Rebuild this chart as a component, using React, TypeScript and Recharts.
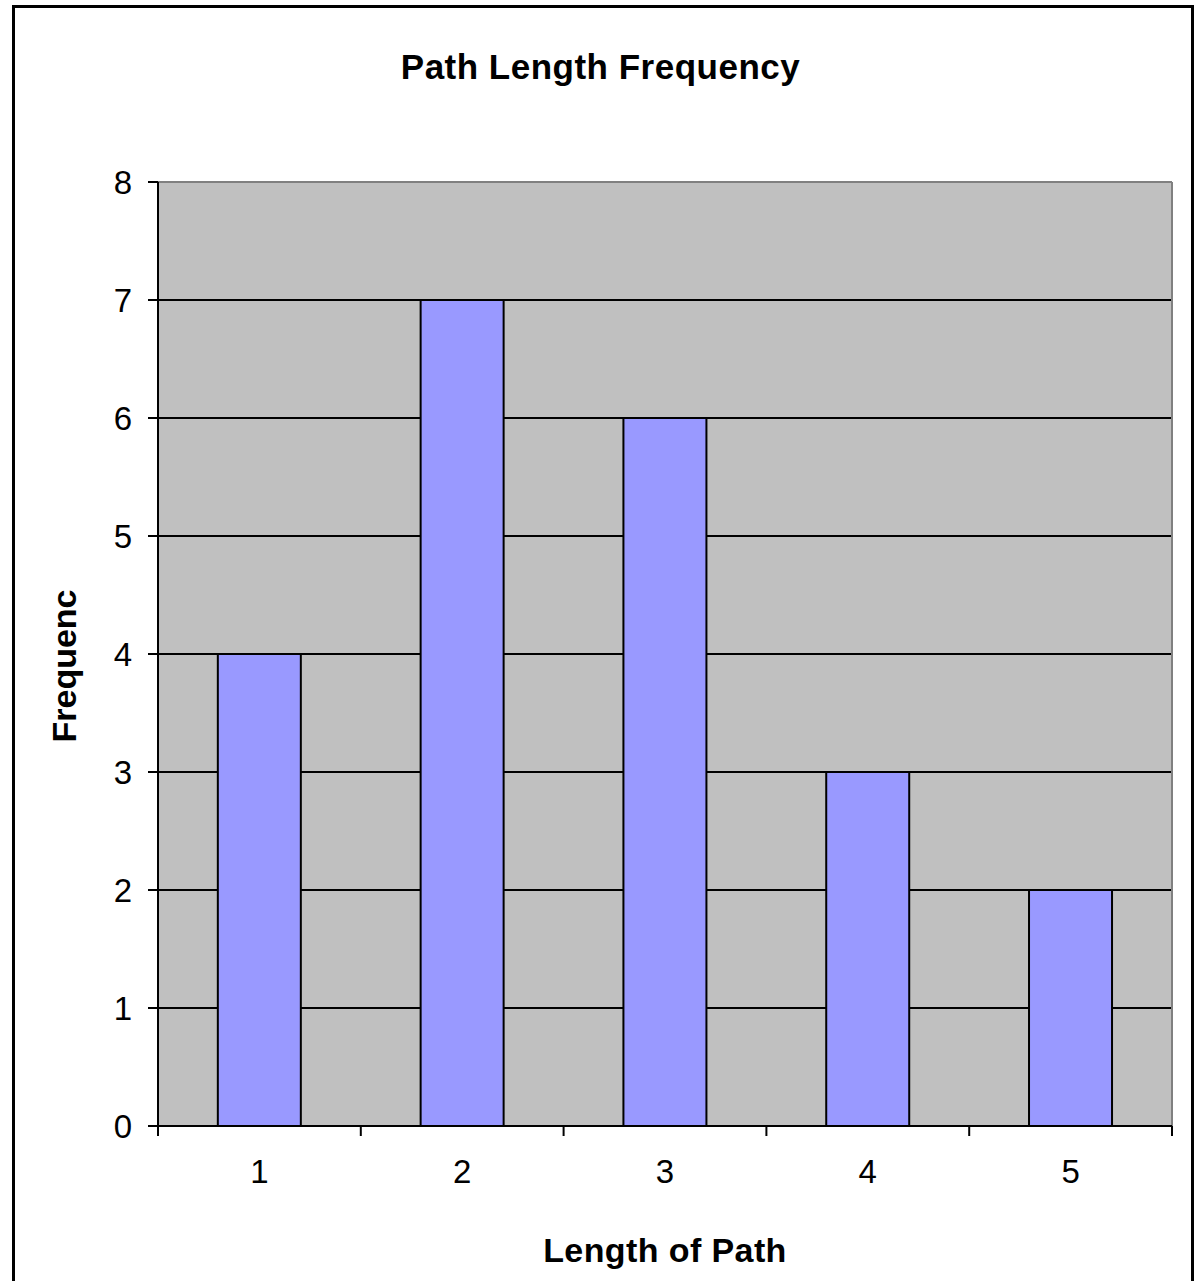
import React from 'react';
import { BarChart, Bar, XAxis, YAxis, CartesianGrid } from 'recharts';

const categories = ['1', '2', '3', '4', '5'];
const frequencies = [4, 7, 6, 3, 2];
const yTicks = [0, 1, 2, 3, 4, 5, 6, 7, 8];
const yMax = 8;

const data = categories.map((c, i) => ({ name: c, value: frequencies[i] }));

const FONT = '"Liberation Sans", Arial, sans-serif';
const TICK_SIZE = 10;
const TICK_MARGIN = 24;

const XTick = (props: any) => {
  const { x, y, payload, index } = props;
  const off = payload && payload.offset ? payload.offset : 0;
  const axisY = y - TICK_MARGIN - TICK_SIZE;
  const last = index === categories.length - 1;
  return (
    <g>
      <line x1={x - off} x2={x - off} y1={axisY} y2={axisY + TICK_SIZE} stroke="#000" strokeWidth={2} />
      {last && (
        <line x1={x + off} x2={x + off} y1={axisY} y2={axisY + TICK_SIZE} stroke="#000" strokeWidth={2} />
      )}
      <text x={x} y={y} dy="0.71em" textAnchor="middle" fontSize={33} fontFamily={FONT} fill="#000">
        {payload.value}
      </text>
    </g>
  );
};

// black gridlines at every value tick below the top of the domain
const gridGen = (props: any) => {
  const o = props && props.offset;
  if (!o) return [];
  return yTicks.filter((t) => t < yMax).map((t) => o.top + o.height * (1 - t / yMax));
};
// grey frame: top edge and right edge of the plot area
const topGen = (props: any) => {
  const o = props && props.offset;
  return o ? [o.top] : [];
};
const rightGen = (props: any) => {
  const o = props && props.offset;
  return o ? [o.left + o.width] : [];
};

export default function App() {
  return (
    <div style={{ position: 'absolute', left: 0, top: 0, width: 1201, height: 1281, background: '#fff', overflow: 'hidden' }}>
      <div
        style={{
          position: 'absolute',
          left: 12,
          top: 5,
          width: 1182,
          height: 1280,
          borderLeft: '3px solid #000',
          borderTop: '3px solid #000',
          borderRight: '3px solid #000',
          boxSizing: 'border-box',
        }}
      />
      <div style={{ position: 'absolute', left: 0, top: 0 }}>
        <BarChart
          width={1201}
          height={1281}
          data={data}
          margin={{ top: 182, right: 29, bottom: 95, left: 98 }}
          barCategoryGap="29.5%"
        >
          <CartesianGrid
            vertical={false}
            stroke="#000"
            strokeWidth={2}
            fill="#C0C0C0"
            fillOpacity={1}
            horizontalCoordinatesGenerator={gridGen}
          />
          <CartesianGrid
            stroke="#808080"
            strokeWidth={2}
            horizontalCoordinatesGenerator={topGen}
            verticalCoordinatesGenerator={rightGen}
          />
          <XAxis
            dataKey="name"
            height={60}
            axisLine={{ stroke: '#000', strokeWidth: 2 }}
            tickLine={false}
            tickSize={TICK_SIZE}
            tickMargin={TICK_MARGIN}
            tick={<XTick />}
            interval={0}
          />
          <YAxis
            domain={[0, yMax]}
            ticks={yTicks}
            width={60}
            axisLine={{ stroke: '#000', strokeWidth: 2 }}
            tickLine={{ stroke: '#000', strokeWidth: 2 }}
            tickSize={10}
            tickMargin={16}
            tick={{ fontSize: 33, fontFamily: FONT, fill: '#000' }}
            interval={0}
          />
          <Bar dataKey="value" fill="#9999FF" stroke="#000" strokeWidth={2} isAnimationActive={false} />
        </BarChart>
      </div>
      <div
        style={{
          position: 'absolute',
          left: 0,
          width: 1201,
          top: 47,
          textAlign: 'center',
          fontFamily: FONT,
          fontWeight: 'bold',
          fontSize: 35,
          letterSpacing: 0.5,
          lineHeight: '40px',
          color: '#000',
          whiteSpace: 'nowrap',
        }}
      >
        Path Length Frequency
      </div>
      <div
        style={{
          position: 'absolute',
          left: 465,
          width: 400,
          top: 1230,
          textAlign: 'center',
          fontFamily: FONT,
          fontWeight: 'bold',
          fontSize: 34,
          letterSpacing: 0.4,
          lineHeight: '40px',
          color: '#000',
          whiteSpace: 'nowrap',
        }}
      >
        Length of Path
      </div>
      <div
        style={{
          position: 'absolute',
          left: 64,
          top: 666,
          transform: 'translate(-50%, -50%) rotate(-90deg)',
          fontFamily: FONT,
          fontWeight: 'bold',
          fontSize: 34,
          lineHeight: '40px',
          color: '#000',
          whiteSpace: 'nowrap',
        }}
      >
        Frequenc
      </div>
    </div>
  );
}
